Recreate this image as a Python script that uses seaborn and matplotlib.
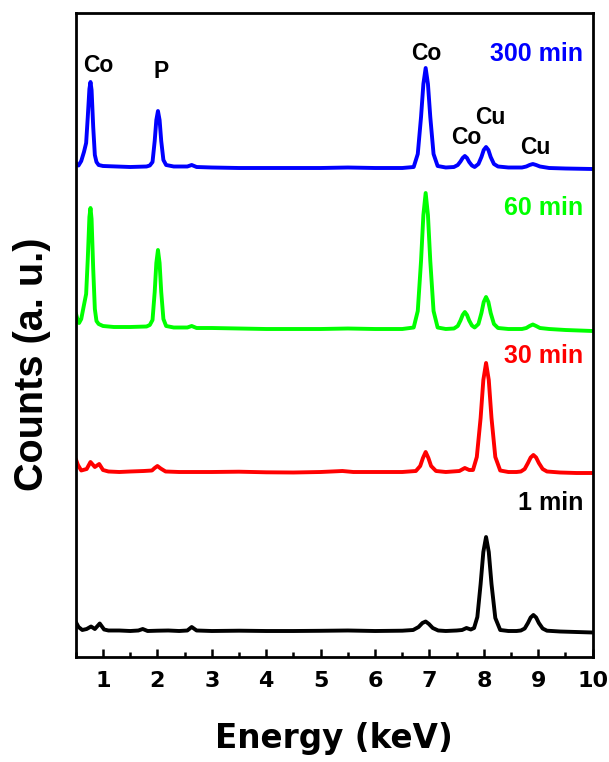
import numpy as np
import pandas as pd
import matplotlib
matplotlib.use("Agg")
import matplotlib.pyplot as plt
from matplotlib.ticker import MultipleLocator
import seaborn as sns

# ---------------- data ----------------
samples = ["1 min", "30 min", "60 min", "300 min"]
colors = ["#000000", "#ff0000", "#00ff00", "#0000ff"]

energy_1 = [0.50, 0.55, 0.62, 0.70, 0.78, 0.85, 0.94, 1.02, 1.10, 1.30, 1.50, 1.65, 1.73, 1.82,
            2.00, 2.20, 2.40, 2.55, 2.63, 2.72, 3.00, 3.50, 4.00, 4.50, 5.00, 5.50, 6.00, 6.50,
            6.70, 6.80, 6.87, 6.93, 6.99, 7.06, 7.16, 7.30, 7.50, 7.60, 7.68, 7.76, 7.82, 7.88,
            7.94, 7.99, 8.04, 8.09, 8.14, 8.21, 8.30, 8.45, 8.60, 8.68, 8.75, 8.81, 8.86, 8.91,
            8.96, 9.01, 9.08, 9.16, 9.40, 9.70, 10.00]
counts_1 = [9, 4, 1, 2, 4.5, 2, 7.5, 1.5, 0.5, 0.5, 0, 0.5, 2, 0,
            0.3, 0.5, 0, 0.5, 4, 0.5, 0, 0.3, 0, 0, 0.2, 0.5, 0, 0.3,
            1, 4, 8, 9.5, 7, 3, 0.5, 0, 0.5, 1, 3, 1.5, 3, 14,
            47, 79, 94, 79, 47, 13, 1, 0, 0, 0.5, 2.5, 8, 13.5, 16,
            13.5, 8, 2.5, 0.3, -0.5, -1, -1.5]

energy_30 = [0.50, 0.54, 0.60, 0.70, 0.77, 0.85, 0.93, 1.00, 1.10, 1.30, 1.50, 1.75, 1.90, 1.95,
             2.00, 2.06, 2.15, 2.40, 3.00, 3.50, 4.00, 4.50, 5.00, 5.40, 5.60, 6.00, 6.50, 6.75,
             6.83, 6.88, 6.93, 6.98, 7.03, 7.12, 7.30, 7.55, 7.65, 7.73, 7.80, 7.87, 7.94, 7.99,
             8.04, 8.09, 8.14, 8.21, 8.30, 8.45, 8.60, 8.68, 8.75, 8.81, 8.86, 8.91, 8.96, 9.01,
             9.08, 9.16, 9.40, 9.70, 10.00]
counts_30 = [13, 7, 1.5, 3, 10, 5, 8, 2, 0.5, 0, 0.5, 1, 1.5, 4,
             6, 3.5, 0.5, 0, 0, 0.3, -0.3, -0.5, 0, 1, 0, 0, 0, 1,
             6, 14, 20, 14, 6, 1, 0, 1, 4, 2, 2, 15, 54, 92,
             109, 92, 54, 15, 1.5, 0, 0, 0.5, 3, 9, 14.5, 17, 14.5, 9,
             3, 0.5, -0.5, -1, -1]

energy_60 = [0.50, 0.53, 0.56, 0.60, 0.65, 0.69, 0.72, 0.75, 0.77, 0.79, 0.82, 0.85, 0.88, 0.92,
             1.00, 1.20, 1.50, 1.80, 1.86, 1.91, 1.95, 1.98, 2.01, 2.04, 2.07, 2.11, 2.16, 2.30,
             2.55, 2.63, 2.72, 3.00, 3.50, 4.00, 4.50, 5.00, 5.50, 6.00, 6.50, 6.71, 6.785, 6.845,
             6.888, 6.93, 6.972, 7.015, 7.075, 7.15, 7.30, 7.45, 7.52, 7.57, 7.61, 7.65, 7.69, 7.73,
             7.78, 7.83, 7.90, 7.955, 7.997, 8.04, 8.083, 8.125, 8.185, 8.26, 8.45, 8.70, 8.78, 8.84,
             8.90, 8.96, 9.03, 9.20, 9.50, 10.00]
counts_60 = [16, 10, 6, 10, 24, 35, 70, 112, 121, 110, 60, 20, 8, 5,
             3, 2, 2, 2.5, 4, 9, 37, 66, 79, 66, 37, 10, 3, 1.5,
             1.5, 3, 1, 1, 0.5, 0, 0, 0, 0.5, 0, 0, 1.5, 18, 68,
             114, 136, 114, 68, 18, 1.5, 0, 0.5, 3, 8.5, 14, 17, 14, 8.5,
             3.5, 1.5, 5, 16, 27, 32, 27, 16, 5, 1, 0, 0, 1, 3,
             4.5, 3, 1, 0, -1, -2]

energy_300 = [0.50, 0.55, 0.60, 0.65, 0.69, 0.72, 0.75, 0.77, 0.79, 0.82, 0.85, 0.88, 0.92, 1.00,
              1.50, 1.80, 1.86, 1.91, 1.95, 1.98, 2.01, 2.04, 2.07, 2.11, 2.16, 2.30, 2.55, 2.63,
              2.72, 3.00, 3.50, 4.00, 5.00, 5.50, 6.00, 6.50, 6.71, 6.785, 6.845, 6.888, 6.93, 6.972,
              7.015, 7.075, 7.15, 7.30, 7.45, 7.52, 7.57, 7.61, 7.65, 7.69, 7.73, 7.78, 7.83, 7.90,
              7.955, 7.997, 8.04, 8.083, 8.125, 8.185, 8.26, 8.45, 8.70, 8.78, 8.84, 8.90, 8.96, 9.03,
              9.20, 9.50, 10.00]
counts_300 = [4, 1.5, 6, 15, 24, 50, 78, 85, 77, 40, 12, 5, 2, 1,
              0, 0.5, 1.5, 5, 26, 47, 56, 47, 26, 7, 2, 0.5, 0.5, 2,
              0, -0.5, -1, -1, -1, -0.5, -1, -1, 0, 13, 50, 83, 99, 83,
              50, 13, 1, -0.5, 0, 2, 5.5, 9, 11, 9, 5, 1.5, 0, 3,
              10, 17, 20, 17, 10, 3, 0.5, -0.5, -0.5, 0.5, 2, 3, 2, 0.5,
              -1, -1.5, -2]

# vertical stacking offsets of the spectra
offsets = [30, 189, 332, 494]

# peak annotations
peak_labels = ["Co", "P", "Co", "Co", "Cu", "Cu"]
peak_x = [0.91, 2.06, 6.94, 7.68, 8.11, 8.95]
peak_y = [595, 590, 607, 524, 544, 513]

# sample labels: right-aligned
sample_label_y = [158, 305, 452.7, 607]

major_ticks = [1, 2, 3, 4, 5, 6, 7, 8, 9, 10]

# ---------------- build long-form table ----------------
energies = [energy_1, energy_30, energy_60, energy_300]
counts = [counts_1, counts_30, counts_60, counts_300]
frames = []
for s, e, c, off in zip(samples, energies, counts, offsets):
    frames.append(pd.DataFrame({"energy": e,
                                "counts": np.asarray(c, float) + off,
                                "sample": s}))
df = pd.concat(frames, ignore_index=True)

# ---------------- style ----------------
sns.set_theme(style="ticks")
plt.rcParams["font.family"] = ["Liberation Sans", "DejaVu Sans"]
plt.rcParams["font.weight"] = "bold"
plt.rcParams["text.color"] = "black"
plt.rcParams["axes.labelcolor"] = "black"
plt.rcParams["xtick.color"] = "black"
plt.rcParams["ytick.color"] = "black"
plt.rcParams["axes.edgecolor"] = "black"
plt.rcParams["xtick.direction"] = "in"
plt.rcParams["ytick.direction"] = "in"

fig = plt.figure(figsize=(6.09, 7.62), dpi=100)
ax = fig.add_axes([75.8 / 609, 1 - 657 / 762, (592.7 - 75.8) / 609, (657 - 12.5) / 762])

sns.lineplot(data=df, x="energy", y="counts", hue="sample", hue_order=samples,
             palette=colors, estimator=None, sort=False, legend=False,
             linewidth=2.8, ax=ax)
for ln in ax.lines:
    ln.set_solid_joinstyle("round")
    ln.set_solid_capstyle("round")

ax.set_xlim(0.5, 10)
ax.set_ylim(4, 648.5)
ax.set_xticks(major_ticks)
ax.set_xticklabels([str(t) for t in major_ticks])
ax.xaxis.set_minor_locator(MultipleLocator(0.5))
ax.set_yticks([])
ax.tick_params(axis="x", which="major", length=6, width=1.8, pad=10,
               labelsize=16, direction="in", top=False, colors="black")
ax.tick_params(axis="x", which="minor", length=3.5, width=1.8, direction="in",
               top=False, colors="black")
for t in ax.get_xticklabels():
    t.set_fontweight("bold")
    t.set_fontfamily(["DejaVu Sans"])
    t.set_color("black")
for sp in ax.spines.values():
    sp.set_visible(True)
    sp.set_linewidth(2.0)
    sp.set_color("black")

ax.set_xlabel("Energy (keV)", fontsize=23.5, fontweight="bold", color="black",
              family=["DejaVu Sans"], va="baseline")
ax.xaxis.set_label_coords(0.5, (657 - 748) / 644.5)
ax.set_ylabel("Counts (a. u.)", fontsize=28.5, fontweight="bold", color="black",
              va="center")
ax.yaxis.set_label_coords(-0.0838, (657 - 364) / 644.5)

for lab, x, y in zip(peak_labels, peak_x, peak_y):
    ax.text(x, y, lab, fontsize=16.5, fontweight="bold", color="black",
            ha="center", va="center")
for s, c, y in zip(samples, colors, sample_label_y):
    ax.text(9.82, y, s, fontsize=18, fontweight="bold", color=c,
            ha="right", va="center")

fig.savefig("out.png", dpi=100)
